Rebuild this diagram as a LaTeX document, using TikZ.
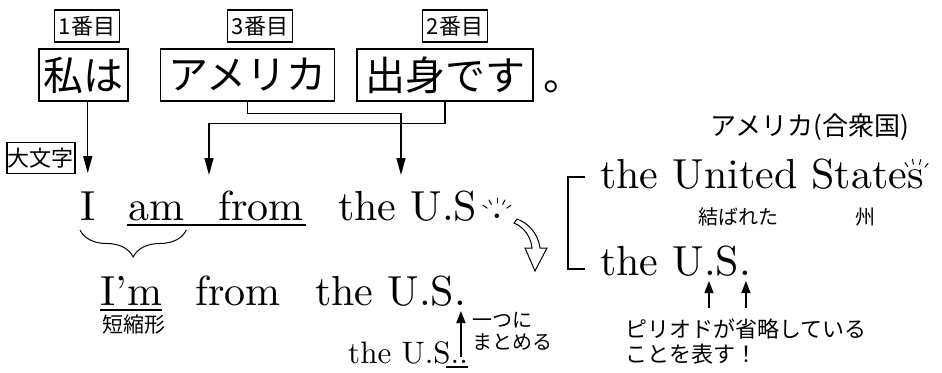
\documentclass[tikz,border=0pt]{standalone}
\usepackage{fontspec}
\setmainfont{lmroman10-regular.otf}
\usepackage{tikz}
\usetikzlibrary{arrows.meta,decorations.pathreplacing}
\newfontfamily\jp{Noto Sans CJK JP}
\newcommand{\jpsize}[1]{\jp\fontsize{#1}{#1}\selectfont}
\newcommand{\ensize}[1]{\fontsize{#1}{#1}\selectfont}

\tikzset{
  jbox/.style={draw, line width=1.4pt, minimum height=52pt, inner sep=0pt, font=\jpsize{40}},
  order/.style={draw, line width=1.4pt, minimum width=65pt, minimum height=32pt, inner sep=0pt, font=\jpsize{22}},
  en/.style={anchor=base west, inner sep=0pt, font=\ensize{42}},
  note/.style={inner sep=0pt, font=\jpsize{#1}},
  link/.style={line width=1.4pt, -{Triangle[length=17pt,width=9pt]}},
  tick/.style={line width=1.4pt, -{Triangle[length=12pt,width=9pt]}},
  spark/.style={line width=1pt, line cap=round}
}

\begin{document}
\begin{tikzpicture}[x=1pt, y=-1pt]
\useasboundingbox (0,0) rectangle (942,372);

\node[jbox, minimum width=89pt] (wa) at (83.5,75) {私は};
\node[jbox, minimum width=174pt] (ame) at (247.5,75) {アメリカ};
\node[jbox, minimum width=176pt] (des) at (445,75) {出身です};
\node[anchor=base west, inner sep=0pt, font=\jpsize{40}] (maru) at ([xshift=10pt]des.base east) {。};

\node[order] (o1) at (87,26) {1番目};
\node[order] (o3) at (260,26) {3番目};
\node[order] (o2) at (455,26) {2番目};
\node[order, minimum width=68pt, minimum height=31pt] (cap) at (41,158) {大文字};

\node[en] (I) at (80,220) {I};
\node[en] (am) at (128,220) {am};
\node[en] (from) at (218,220) {from};
\node[en] (us) at (338,220) {the U.S};
\node[en] (dotA) at (491,218) {.};

\node[en] (im) at (100,305) {I'm};
\node[en] (from2) at (195,305) {from};
\node[en] (us2) at (315,305) {the U.S.};
\node[en, font=\ensize{31}] (us3) at (348,363) {the U.S..};
\node[note=21] (short) at (134,325) {短縮形};
\node[align=left, anchor=west, inner sep=0pt, font=\jp\fontsize{20}{22}\selectfont] (merge) at (472,331) {一つに\\まとめる};

\node[note=26] (gas) at (810,127) {アメリカ(合衆国)};
\node[en] (states) at (600,188) {the United States};
\node[note=20] (mus) at (738,217) {結ばれた};
\node[note=20] (shu) at (865,217) {州};
\node[en] (usr) at (600,275) {the U.S.};
\node[align=left, anchor=west, inner sep=0pt, font=\jp\fontsize{22}{25}\selectfont] (omit) at (625,342) {ピリオドが省略している\\ことを表す！};

\coordinate (tipUS) at (401,175);
\coordinate (tipAF) at (209,175);
\draw[link] (I.north |- wa.south) -- ([yshift=18pt]I.north);
\draw[link] (ame.south) -- ++(0,12) -| (tipUS);
\draw[link] (des.south) -- ++(0,22) -| (tipAF);

\draw[line width=1.4pt] ([xshift=-1pt,yshift=-5pt]am.base west) -- ([xshift=2pt,yshift=-5pt]from.base east);
\draw[line width=1.4pt] ([yshift=-5pt]im.base west) -- ([yshift=-5pt]im.base east);
\draw[line width=1.4pt] ([xshift=-22pt,yshift=-4pt]us3.base east) -- ([yshift=-4pt]us3.base east);
\draw[line width=1pt, decorate, decoration={brace, mirror, amplitude=27pt}] ([yshift=-10pt]I.base west) -- ([xshift=2pt,yshift=-10pt]am.base east);

\coordinate (dotB) at ([xshift=-5pt,yshift=-6pt]us2.base east);
\coordinate (dotU) at (709,281);
\coordinate (dotS) at ([xshift=-5pt,yshift=-6pt]usr.base east);
\draw[tick] (dotB |- 0,357) -- (dotB);
\draw[tick] (709,308) -- (dotU);
\draw[tick] (dotS |- 0,308) -- (dotS);

\draw[line width=1.4pt] (585,177) -| (568,269) -- (585,269);

\draw[line width=1pt, fill=white] (514,223) .. controls (524,227) and (531,237) .. (532,248)
  -- (525,248) -- (535,271) -- (547,248) -- (540,248)
  .. controls (538,233) and (528,223) .. (517,219) -- cycle;

\coordinate (glowA) at ([xshift=6pt,yshift=3pt]dotA.base west);
\coordinate (glowB) at ([xshift=-8pt,yshift=10pt]states.base east);
\foreach \a in {-35,-62,-90,-118,-145}
  \draw[spark] (glowA) ++(\a:12) -- ++(\a:5);
\foreach \a in {-50,-75,-100,-125}
  \draw[spark] (glowB) ++(\a:14) -- ++(\a:5);
\end{tikzpicture}
\end{document}
